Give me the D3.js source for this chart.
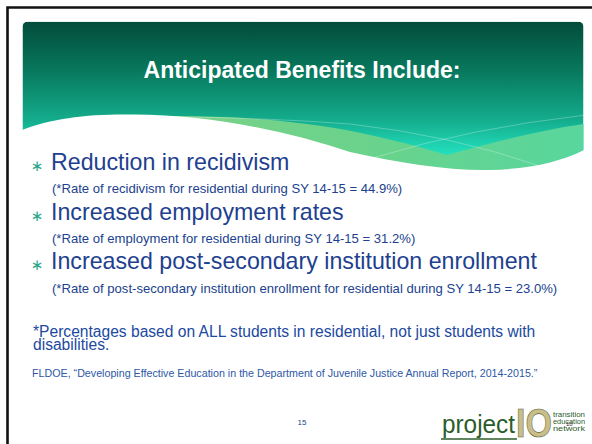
<!DOCTYPE html>
<html>
<head>
<meta charset="utf-8">
<script src="https://cdn.jsdelivr.net/npm/d3@7"></script>
<style>
  body { margin: 0; background: #fff; }
  svg { display: block; }
</style>
</head>
<body>
<div class="slide"></div>
<script>
// slide content
const title = "Anticipated Benefits Include:";
const benefits = ["Reduction in recidivism", "Increased employment rates", "Increased post-secondary institution enrollment"];
const measures = ["recidivism", "employment", "post-secondary institution enrollment"];
const rates = [44.9, 31.2, 23.0];
const schoolYear = "SY 14-15";
const footnote = ["*Percentages based on ALL students in residential, not just students with", "disabilities."];
const citation = "FLDOE, \u201CDeveloping Effective Education in the Department of Juvenile Justice Annual Report, 2014-2015.\u201D";
const pageNumber = "15";
const logoWords = ["transition", "education", "network"];

const width = 592, height = 444;
const font = "'Liberation Sans', Arial, sans-serif";
const blue = "#213f8e";

const svg = d3.select(".slide").append("svg")
    .attr("width", width)
    .attr("height", height);

const defs = svg.append("defs");
const grad = defs.append("linearGradient")
    .attr("id", "head")
    .attr("gradientUnits", "userSpaceOnUse")
    .attr("x1", 0).attr("y1", 22).attr("x2", 0).attr("y2", 160);
[["0", "#024c3b"], ["0.35", "#08785d"], ["0.7", "#13ab8b"], ["1", "#26e8c6"]]
    .forEach(s => grad.append("stop").attr("offset", s[0]).attr("stop-color", s[1]));

const lime = defs.append("linearGradient")
    .attr("id", "lime")
    .attr("gradientUnits", "userSpaceOnUse")
    .attr("x1", 180).attr("y1", 0).attr("x2", 584).attr("y2", 0);
[["0", "#7ad188"], ["0.5", "#68d38c"], ["1", "#58d69e"]]
    .forEach(s => lime.append("stop").attr("offset", s[0]).attr("stop-color", s[1]));

defs.append("clipPath").attr("id", "headClip")
  .append("rect")
    .attr("x", 22.5).attr("y", 21.7)
    .attr("width", 561).attr("height", 160)
    .attr("rx", 5);

// header band
const head = svg.append("g").attr("clip-path", "url(#headClip)");
head.append("rect")
    .attr("x", 22.5).attr("y", 21.7)
    .attr("width", 561).attr("height", 160)
    .attr("fill", "url(#head)");

head.append("path")
    .attr("d", "M175 116 C230 116,290 120,340 129 C380 136,420 147,447 155 C490 143,540 130,584 124 L584 190 L175 190 Z")
    .attr("fill", "url(#lime)");

head.append("path")
    .attr("d", "M183 117 Q270 118 350 124 Q450 135 540 166 M373 158 Q470 128 586 115")
    .attr("fill", "none")
    .attr("stroke", "rgba(255,255,255,0.35)")
    .attr("stroke-width", 0.8);

// white wave, drawn outside the clip so no edge shows through
svg.append("path")
    .attr("d", "M15 131 L20 131 C50 118,90 114,130 114.5 C210 114,290 132,350 152 C400 163,450 171,490 170 C530 169,560 162,584 150 L590 150 L590 200 L15 200 Z")
    .attr("fill", "#fff");

svg.append("text")
    .attr("x", 302).attr("y", 78)
    .attr("text-anchor", "middle")
    .attr("font-family", font)
    .attr("font-weight", "bold")
    .attr("font-size", 23)
    .attr("fill", "#fff")
    .text(title);

// bullet rows
const yMain = d3.scaleLinear().domain([0, benefits.length - 1]).range([170, 269]);
const ySub = d3.scaleLinear().domain([0, benefits.length - 1]).range([193, 293]);

svg.selectAll("text.bullet")
    .data(benefits)
    .enter()
    .append("text")
    .attr("class", "bullet")
    .attr("x", 37).attr("y", (d, i) => yMain(i) + 1)
    .attr("text-anchor", "middle")
    .attr("font-family", "'DejaVu Sans', sans-serif")
    .attr("font-size", 15)
    .attr("fill", "#2aa88b")
    .text("\u2217");

svg.selectAll("text.main")
    .data(benefits)
    .enter()
    .append("text")
    .attr("class", "main")
    .attr("x", 51).attr("y", (d, i) => yMain(i))
    .attr("font-family", font)
    .attr("font-size", 23.2)
    .attr("fill", blue)
    .text(d => d);

svg.selectAll("text.sub")
    .data(measures)
    .enter()
    .append("text")
    .attr("class", "sub")
    .attr("x", 52).attr("y", (d, i) => ySub(i))
    .attr("font-family", font)
    .attr("font-size", 13.1)
    .attr("fill", blue)
    .text((d, i) => `(*Rate of ${d} for residential during ${schoolYear} = ${rates[i].toFixed(1)}%)`);

svg.selectAll("text.note")
    .data(footnote)
    .enter()
    .append("text")
    .attr("class", "note")
    .attr("x", 33).attr("y", (d, i) => 337 + i * 13)
    .attr("font-family", font)
    .attr("font-size", 15.6)
    .attr("fill", "#2049a0")
    .text(d => d);

svg.append("text")
    .attr("x", 32).attr("y", 377)
    .attr("font-family", font)
    .attr("font-size", 10.7)
    .attr("fill", "#2d58a6")
    .text(citation);

svg.append("text")
    .attr("x", 302).attr("y", 425)
    .attr("text-anchor", "middle")
    .attr("font-family", font)
    .attr("font-size", 8)
    .attr("fill", blue)
    .text(pageNumber);

// logo
const logo = svg.append("g");
logo.append("text")
    .attr("x", 442).attr("y", 433)
    .attr("font-family", "'Liberation Sans Narrow', " + font)
    .attr("font-size", 25)
    .attr("textLength", 73)
    .attr("lengthAdjust", "spacingAndGlyphs")
    .attr("fill", "#2c5c2a")
    .text("project");
logo.append("line")
    .attr("x1", 441).attr("x2", 517)
    .attr("y1", 439).attr("y2", 439)
    .attr("stroke", "#2c5c2a").attr("stroke-width", 1.4);
logo.append("text")
    .attr("x", 516).attr("y", 437)
    .attr("font-family", "'Liberation Sans Narrow', " + font)
    .attr("font-weight", "bold")
    .attr("font-size", 41)
    .attr("textLength", 36)
    .attr("lengthAdjust", "spacingAndGlyphs")
    .attr("fill", "#cbbd8a")
    .attr("stroke", "#4f6534")
    .attr("stroke-width", 0.6)
    .text("IO");
logo.selectAll("text.word")
    .data(logoWords)
    .enter()
    .append("text")
    .attr("class", "word")
    .attr("x", 553).attr("y", (d, i) => 417 + i * 7)
    .attr("font-family", font)
    .attr("font-size", 6.8)
    .attr("textLength", 32)
    .attr("lengthAdjust", "spacingAndGlyphs")
    .attr("fill", "#2c5c2a")
    .text(d => d);
logo.append("text")
    .attr("x", 566).attr("y", 426)
    .attr("font-family", font)
    .attr("font-size", 6)
    .attr("fill", "#333")
    .text("10");

// slide frame
svg.append("path")
    .attr("d", "M7.5 444 L7.5 7.5 L592 7.5")
    .attr("fill", "none")
    .attr("stroke", "#111")
    .attr("stroke-width", 2.6);
</script>
</body>
</html>
